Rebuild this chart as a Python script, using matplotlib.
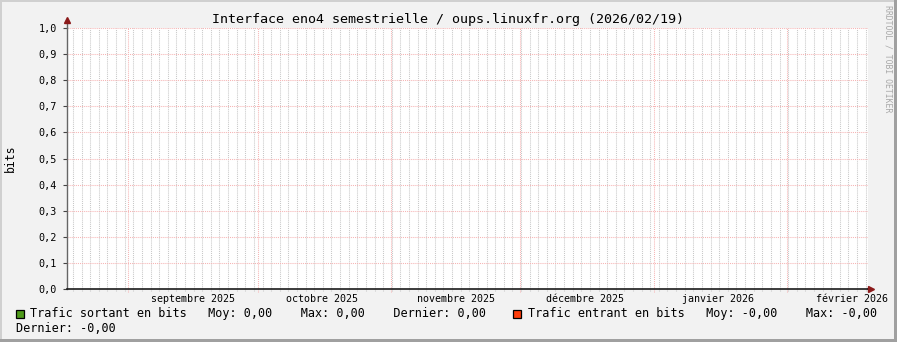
import matplotlib
matplotlib.use("Agg")
import matplotlib.pyplot as plt
import matplotlib.dates as mdates
from matplotlib.patches import Rectangle
from datetime import datetime, timedelta

# ---------------- data ----------------
title = "Interface eno4 semestrielle / oups.linuxfr.org (2026/02/19)"
y_label = "bits"
watermark = "RRDTOOL / TOBI OETIKER"
range_start = "2025-08-17 17:00"
range_end = "2026-02-19 17:00"
month_starts = ["2025-09-01", "2025-10-01", "2025-11-01",
                "2025-12-01", "2026-01-01", "2026-02-01"]
month_labels = ["septembre 2025", "octobre 2025", "novembre 2025",
                "décembre 2025", "janvier 2026", "février 2026"]
y_ticks = [0.0, 0.1, 0.2, 0.3, 0.4, 0.5, 0.6, 0.7, 0.8, 0.9, 1.0]
series_dates = [range_start, range_end]
sortant_values = [0.0, 0.0]
entrant_values = [-0.0, -0.0]
sortant_name = "Trafic sortant en bits"
sortant_stats = ["0,00", "0,00", "0,00"]      # Moy, Max, Dernier
entrant_name = "Trafic entrant en bits"
entrant_stats = ["-0,00", "-0,00", "-0,00"]   # Moy, Max, Dernier

# ---------------- style ----------------
W, H = 897, 342
FONT = "DejaVu Sans Mono"
plt.rcParams["font.family"] = [FONT, "DejaVu Sans"]
BG = "#F2F2F2"
GREEN = "#4E9A1A"
ORANGE = "#FF3D0A"
MINOR_C = "#C8C8C8"
MAJOR_C = "#F6B4B4"
ARROW_C = "#8B1A1A"

fmt = "%Y-%m-%d %H:%M"
t0 = datetime.strptime(range_start, fmt)
t1 = datetime.strptime(range_end, fmt)
sd = [datetime.strptime(s, fmt) for s in series_dates]
ms = [datetime.strptime(s, "%Y-%m-%d") for s in month_starts]

fig = plt.figure(figsize=(W / 100, H / 100), dpi=100, facecolor=BG)

def fx(x):
    return x / W

def fy(y):
    return 1 - y / H

L, R, T, B = 66.7, 868.0, 28.3, 288.7
ax = fig.add_axes([fx(L), fy(B), fx(R) - fx(L), fy(T) - fy(B)])
ax.set_facecolor("white")
ax.set_xlim(t0, t1)
ax.set_ylim(0, 1.0)

# minor vertical grid every 2 days
anchor = datetime(2025, 8, 19, 4, 0)
d = anchor
while d < t1:
    ax.axvline(d, ymin=-0.008, ymax=1, color=MINOR_C, lw=0.75,
               ls=(0, (1, 1)), zorder=1, clip_on=False)
    d += timedelta(days=2)

# major vertical grid at month starts
for m in ms:
    ax.axvline(m, ymin=-0.012, ymax=1, color=MAJOR_C, lw=0.75,
               ls=(0, (1, 1)), zorder=2, clip_on=False)

# horizontal major grid
for yv in y_ticks[1:]:
    ax.axhline(yv, xmin=0, xmax=1, color=MAJOR_C, lw=0.75,
               ls=(0, (1, 1)), zorder=2)

# series
ax.plot(sd, sortant_values, color=GREEN, lw=0.6, zorder=3)
ax.plot(sd, entrant_values, color=ORANGE, lw=0.6, zorder=3)

# axes look
for s in ["top", "right"]:
    ax.spines[s].set_visible(False)
ax.spines["left"].set_color("#666666")
ax.spines["left"].set_linewidth(1.0)
ax.spines["bottom"].set_color("#1A1A1A")
ax.spines["bottom"].set_linewidth(1.2)
ax.spines["left"].set_zorder(5)
ax.spines["bottom"].set_zorder(5)

ax.set_yticks(y_ticks)
ax.set_yticklabels([f"{v:.1f}".replace(".", ",") for v in y_ticks])
ax.tick_params(axis="y", length=3, width=0.8, color="#444444", pad=4,
               labelsize=7.3, labelcolor="black")

label_pos = [m + timedelta(days=15) for m in ms]
ax.set_xticks(label_pos)
ax.set_xticklabels(month_labels)
ax.tick_params(axis="x", length=0, pad=4, labelsize=7.2, labelcolor="black")

# arrows
ax.plot([0, 0], [1.0, 1.02], color="#666666", lw=1.0,
        transform=ax.transAxes, clip_on=False, zorder=5)
ax.plot([0], [1.03], marker="^", markersize=4.0, color=ARROW_C,
        transform=ax.transAxes, clip_on=False, zorder=6)
ax.plot([1.0, 1.003], [0, 0], color="#1A1A1A", lw=1.2,
        transform=ax.transAxes, clip_on=False, zorder=5)
ax.plot([1.004], [0], marker=">", markersize=4.0, color=ARROW_C,
        transform=ax.transAxes, clip_on=False, zorder=6)

# title, labels
fig.text(fx(448), fy(19), title, ha="center", va="center", fontsize=9.6)
fig.text(fx(10), fy(158), y_label, ha="center", va="center",
         rotation=90, fontsize=8.3)
fig.text(fx(888), fy(59), watermark, ha="center", va="center",
         rotation=270, fontsize=5.9, color="#A8A8A8")

# legend
def square(x, y, color):
    fig.patches.append(Rectangle((fx(x), fy(y + 8)), 8 / W, 8 / H,
                                 transform=fig.transFigure,
                                 facecolor=color, edgecolor="black",
                                 linewidth=0.9))

LEG_FS = 8.5
square(15.5, 309.5, GREEN)
fig.text(fx(29.5), fy(313.8),
         f"{sortant_name}   Moy: {sortant_stats[0]}    Max: {sortant_stats[1]}    Dernier: {sortant_stats[2]}",
         ha="left", va="center", fontsize=LEG_FS)
square(513, 309.5, ORANGE)
fig.text(fx(527.5), fy(313.8),
         f"{entrant_name}   Moy: {entrant_stats[0]}    Max: {entrant_stats[1]}",
         ha="left", va="center", fontsize=LEG_FS)
fig.text(fx(15.5), fy(328.3), f"Dernier: {entrant_stats[2]}",
         ha="left", va="center", fontsize=LEG_FS)

# frame shading
fig.patches.append(Rectangle((0, fy(2)), 1, 2 / H, transform=fig.transFigure,
                             facecolor="#D0D0D0", edgecolor="none"))
fig.patches.append(Rectangle((0, 0), 2 / W, 1, transform=fig.transFigure,
                             facecolor="#D0D0D0", edgecolor="none"))
fig.patches.append(Rectangle((0, 0), 1, 3 / H, transform=fig.transFigure,
                             facecolor="#A0A0A0", edgecolor="none"))
fig.patches.append(Rectangle((1 - 3 / W, 0), 3 / W, 1, transform=fig.transFigure,
                             facecolor="#A0A0A0", edgecolor="none"))

fig.savefig("out.png", dpi=100, facecolor=BG)
